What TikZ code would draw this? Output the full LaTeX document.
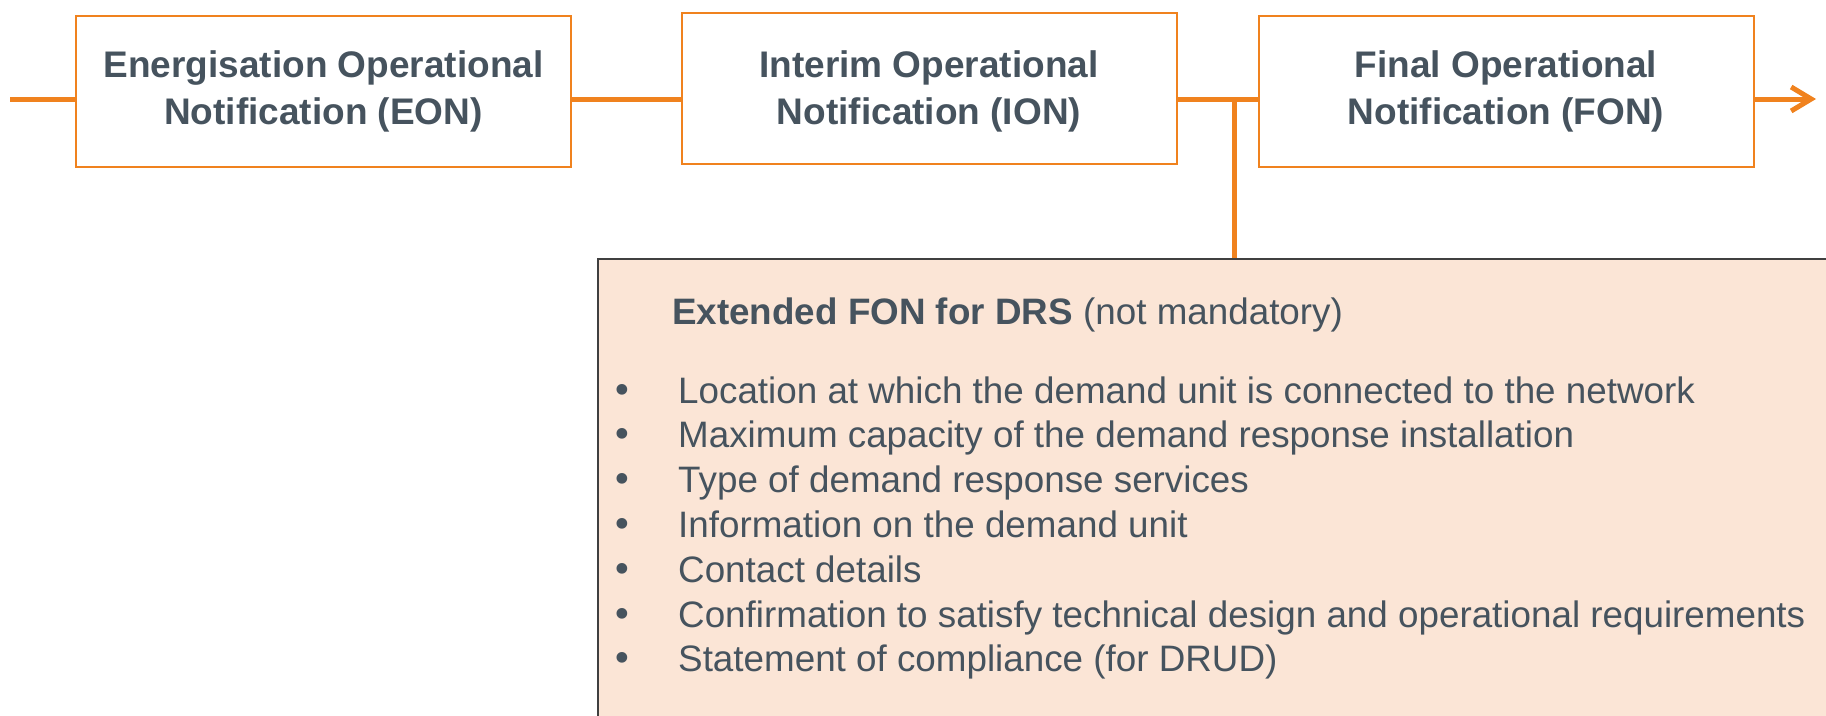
\documentclass[tikz,border=0pt]{standalone}
\usepackage{fontspec}
\setmainfont{Liberation Sans}
\newfontfamily\dotfont{DejaVu Sans}
\usetikzlibrary{arrows.meta}
\definecolor{fonorange}{RGB}{240,130,30}
\definecolor{fonpeach}{RGB}{251,229,214}
\definecolor{fontext}{RGB}{70,83,94}
\definecolor{fonedge}{RGB}{64,64,64}

\begin{document}
\begin{tikzpicture}[x=1pt, y=-1pt,
    notice/.style={draw=fonorange, line width=2pt, fill=white, minimum width=495pt, minimum height=151pt,
        inner sep=0pt, align=center, text=fontext, font=\fontsize{37}{46.5}\selectfont\bfseries},
    flow/.style={draw=fonorange, line width=5pt},
    item/.style={anchor=base west, inner sep=0pt, text=fontext, font=\fontsize{36.8}{44.8}\selectfont}]
            \useasboundingbox (0,0) rectangle (1826,715);
            \coordinate (lead) at (10,99);
            \coordinate (branch) at (1234,99);
            \coordinate (tip) at (1816,99);
            \node [notice] (EON) at (323.5,91.5) {Energisation Operational\\Notification (EON)};
            \node [notice] (ION) at (929,88) {\rule{0pt}{34pt}Interim Operational\\Notification (ION)};
            \node [notice] (FON) at (1506,91.5) {Final Operational\\Notification (FON)};
            \node [draw=fonedge, line width=1.5pt, fill=fonpeach, inner sep=0pt, anchor=north west,
                minimum width=1240pt, minimum height=470pt] (DRS) at (597,258) {};
            \draw [flow] (lead) -- (lead -| EON.west);
            \draw [flow] (EON.east |- lead) -- (ION.west |- lead);
            \draw [flow] (ION.east |- lead) -- (FON.west |- lead);
            \draw [flow, -{Straight Barb[length=20pt, width=24pt]}] (FON.east |- lead) -- (tip);
            \draw [flow] (branch) -- (branch |- DRS.north);
            \node [item] (head) at (672,324) {\textbf{Extended FON for DRS} (not mandatory)};
            \foreach \Line [count=\i] in {Location at which the demand unit is connected to the network,
                Maximum capacity of the demand response installation,
                Type of demand response services,
                Information on the demand unit,
                Contact details,
                Confirmation to satisfy technical design and operational requirements,
                Statement of compliance (for DRUD)}{
                \node [item] (point\i) at (678,{403+44.8*(\i-1)}) {\Line};
                \node [item, anchor=base, font=\dotfont\fontsize{36.8}{44.8}\selectfont]
                    (dot\i) at (622,{403+44.8*(\i-1)}) {•};
            }
        \end{tikzpicture}
\end{document}
